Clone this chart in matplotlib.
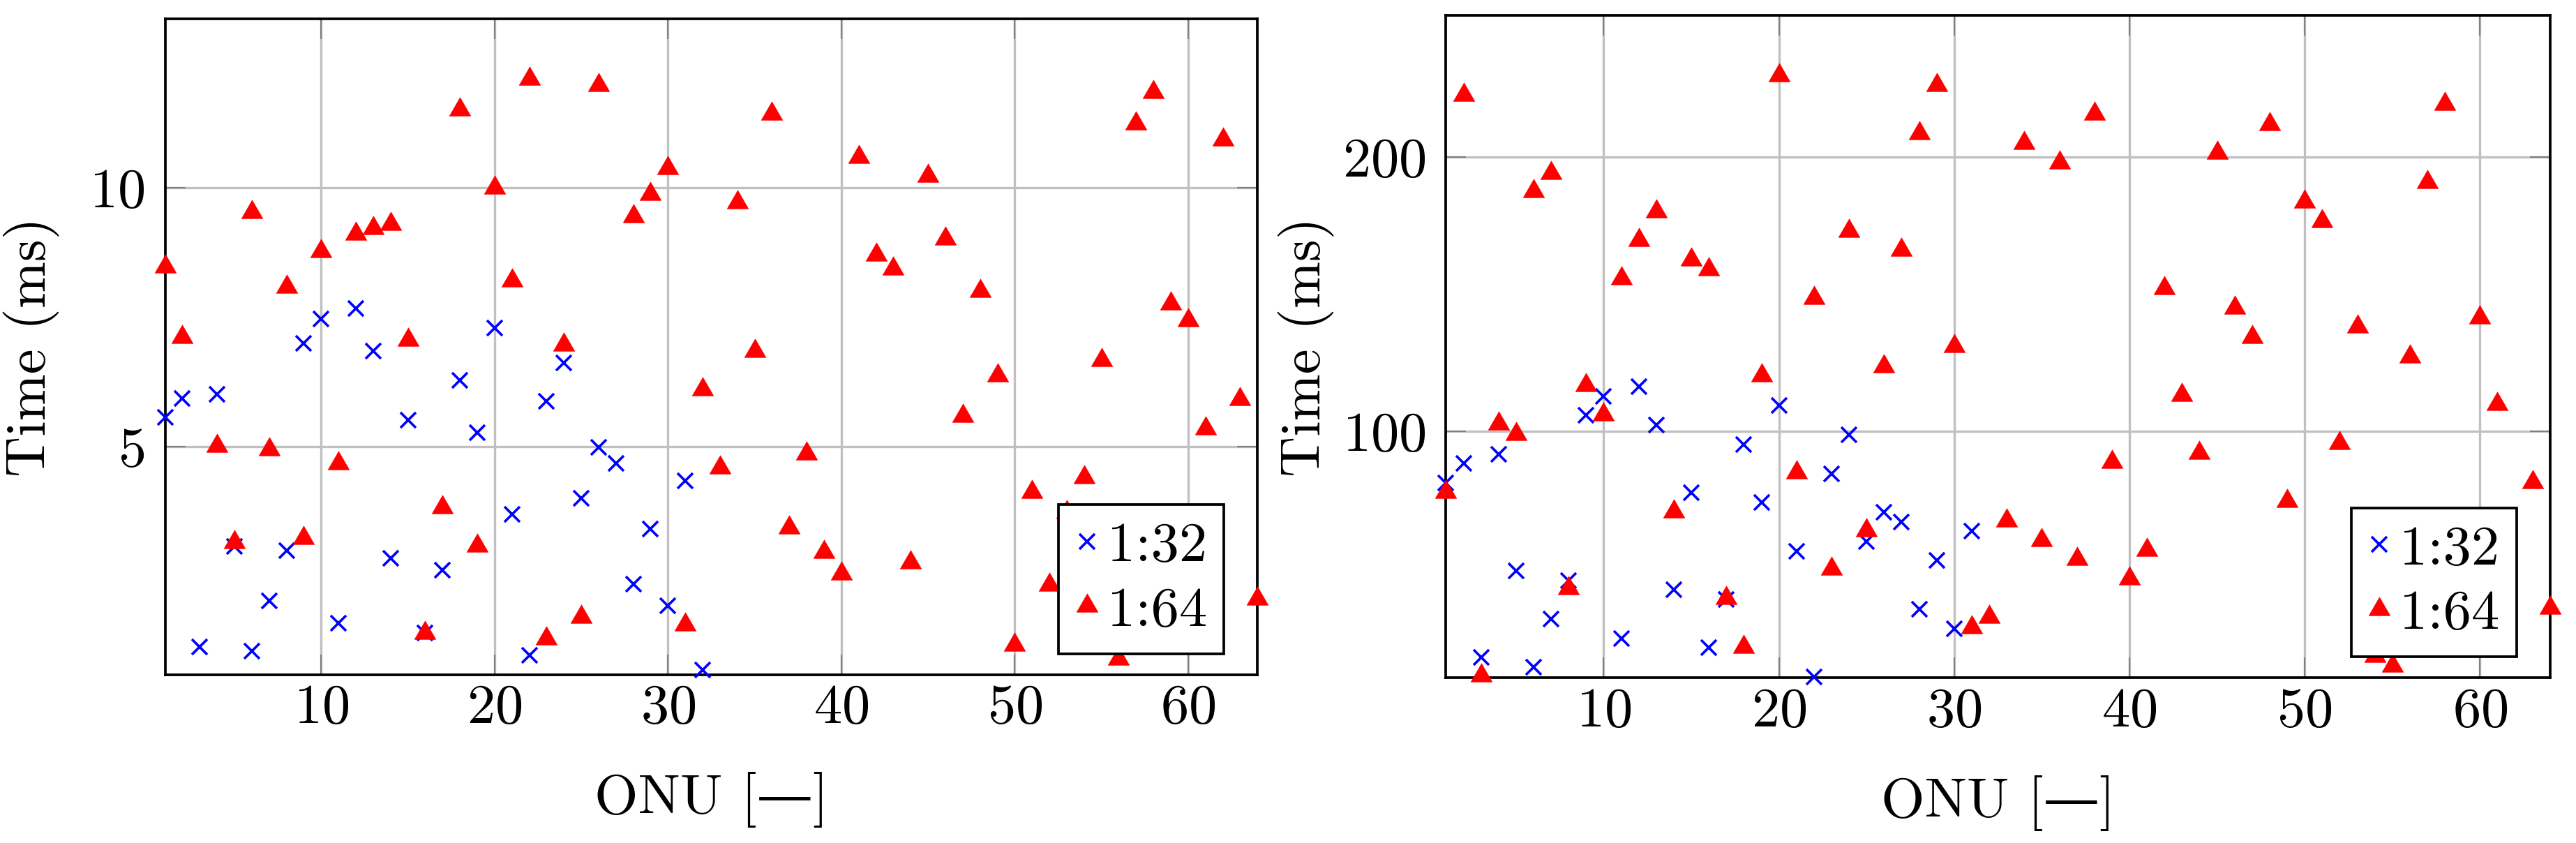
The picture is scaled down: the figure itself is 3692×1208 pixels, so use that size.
import numpy as np
import matplotlib
matplotlib.use("Agg")
import matplotlib.pyplot as plt

nan = np.nan

# ---------------- data ----------------
onu_32 = list(range(1, 33))
onu_64 = list(range(1, 65))

left_32 = [5.57, 5.93, 1.14, 6.01, 3.08, 1.06, 2.02, 2.99, 7.00, 7.46, 1.59, 7.67,
           6.84, 2.85, 5.51, 1.40, 2.61, 6.28, 5.27, 7.29, 3.70, 0.97, 5.87, 6.61,
           4.01, 4.99, 4.68, 2.35, 3.41, 1.93, 4.34, 0.69]
left_64 = [8.48, 7.12, nan, 5.02, 3.16, 9.53, 4.95, 8.09, 3.24, 8.77, 4.68, 9.11,
           9.21, 9.30, 7.06, 1.41, 3.83, 11.51, 3.09, 9.99, 8.21, 12.10, 1.30, 6.97,
           1.72, 11.98, nan, 9.45, 9.87, 10.38, 1.57, 6.10, 4.59, 9.71, 6.85, 11.42,
           3.44, 4.87, 2.97, 2.55, 10.59, 8.70, 8.43, 2.77, 10.22, 9.02, 5.59, 8.01,
           6.37, 1.18, 4.12, 2.34, 3.73, 4.41, 6.67, 0.90, 11.23, 11.84, 7.76, 7.44,
           5.35, 10.92, 5.92, 2.06]

right_32 = [81.2, 88.1, 17.4, 91.6, 49.1, 13.9, 31.4, 45.5, 105.8, 112.7, 24.3, 116.2,
            102.2, 42.2, 77.4, 21.0, 38.6, 95.0, 74.0, 109.3, 56.2, 10.3, 84.4, 98.6,
            59.8, 70.4, 66.8, 34.9, 52.8, 27.9, 63.4, nan]
right_64 = [77.9, 222.7, 10.8, 102.6, 99.0, 187.4, 194.2, 42.6, 116.6, 106.1, 155.6, 169.6,
            180.2, 70.7, 162.6, 159.0, 39.0, 21.4, 120.2, 229.6, 85.0, 148.4, 49.7, 173.0,
            63.9, 123.7, 166.2, 208.5, 226.1, 130.9, 28.5, 32.1, 67.3, 204.9, 60.3, 197.8,
            53.3, 215.6, 88.6, 46.1, 56.7, 152.0, 113.2, 91.9, 201.4, 145.0, 134.4, 212.0,
            74.4, 183.7, 176.6, 95.5, 138.0, 18.0, 14.3, 127.2, 190.8, 219.2, nan, 141.5,
            109.8, nan, 81.4, 35.6]

series_labels = ["1:32", "1:64"]
x_label = "ONU [\u2014]"
y_label = "Time (ms)"
x_ticks = [10, 20, 30, 40, 50, 60]
left_yticks = [5, 10]
right_yticks = [100, 200]

# ---------------- style ----------------
plt.rcParams['font.family'] = ['cmr10', 'DejaVu Serif']
plt.rcParams['axes.formatter.use_mathtext'] = True
FS = 58

# triangle with its circumcentre at the data point (like pgfplots triangle*)
tri = [(0, 1), (-0.8660254, -0.5), (0.8660254, -0.5), (0, 1)]

W, H = 3692, 1208
fig = plt.figure(figsize=(W / 100, H / 100), dpi=100)

panels = [
    dict(rect=[236.6, 26.7, 1802.3, 966.7], ylim=(0.60, 13.26), yticks=left_yticks,
         d32=left_32, d64=left_64, ylab_right=85.0),
    dict(rect=[2072.4, 22.0, 3654.8, 971.3], ylim=(10.0, 251.6), yticks=right_yticks,
         d32=right_32, d64=right_64, ylab_right=1912.0),
]

for p in panels:
    x0, y0, x1, y1 = p['rect']
    ax = fig.add_axes([x0 / W, 1 - y1 / H, (x1 - x0) / W, (y1 - y0) / H])
    ax.plot(onu_32, p['d32'], linestyle='none', marker='x', color='#0000ff',
            markersize=16, markeredgewidth=2.6, clip_on=False, zorder=3,
            label=series_labels[0])
    ax.plot(onu_64, p['d64'], linestyle='none', marker=tri, color='#ff0000',
            markersize=25.5, markeredgewidth=0.4, clip_on=False, zorder=3,
            label=series_labels[1])
    ax.set_xlim(1, 64)
    ax.set_ylim(*p['ylim'])
    ax.set_xticks(x_ticks)
    ax.set_yticks(p['yticks'])
    ax.set_axisbelow(True)
    ax.grid(True, color='#c0c0c0', linewidth=2.4)
    ax.tick_params(direction='in', top=True, right=True, length=21, width=1.5,
                   color='#808080', labelsize=FS, pad=21)
    ax.tick_params(axis='x', pad=10)
    for s in ax.spines.values():
        s.set_linewidth(2.7)
        s.set_color('black')
        s.set_zorder(2.5)
    ax.set_xlabel(x_label, fontsize=FS, labelpad=39)
    ax.set_ylabel(y_label, fontsize=FS)
    ax.yaxis.set_label_coords((p['ylab_right'] - x0) / (x1 - x0), 0.5)
    leg = ax.legend(loc='lower right', bbox_to_anchor=(1 - 48 / (x1 - x0), 30 / (y1 - y0)),
                    borderaxespad=0, fontsize=FS, frameon=True, fancybox=False,
                    framealpha=1, edgecolor='black', handlelength=0.4,
                    handletextpad=0.16, borderpad=0.3, labelspacing=0.25,
                    numpoints=1)
    leg.get_frame().set_linewidth(2.7)
    leg.set_zorder(10)

fig.savefig("out.png", dpi=100)
